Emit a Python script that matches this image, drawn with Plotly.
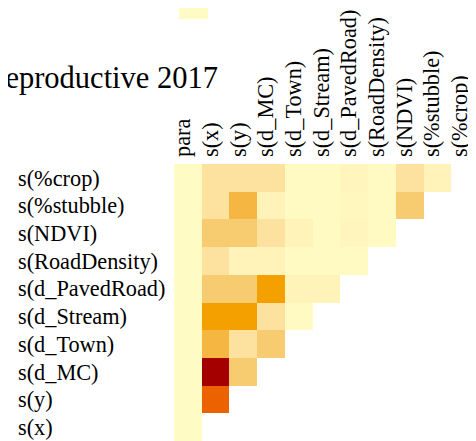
import plotly.graph_objects as go

# page is drawn with the default 8px body margin, so the figure is 8px smaller
OFF = 8
W, H = 476 - OFF, 441 - OFF

# ---- data ----
col_labels = ["para", "s(x)", "s(y)", "s(d_MC)", "s(d_Town)", "s(d_Stream)",
              "s(d_PavedRoad)", "s(RoadDensity)", "s(NDVI)", "s(%stubble)", "s(%crop)"]
row_labels = ["s(%crop)", "s(%stubble)", "s(NDVI)", "s(RoadDensity)", "s(d_PavedRoad)",
              "s(d_Stream)", "s(d_Town)", "s(d_MC)", "s(y)", "s(x)"]  # top to bottom

N = None
row_crop        = [0.03, 0.20, 0.20, 0.20, 0.04, 0.04, 0.08, 0.04, 0.20, 0.10, N]
row_stubble     = [0.03, 0.20, 0.40, 0.10, 0.04, 0.04, 0.07, 0.04, 0.30, N, N]
row_ndvi        = [0.03, 0.30, 0.30, 0.20, 0.10, 0.04, 0.08, 0.04, N, N, N]
row_roaddensity = [0.03, 0.20, 0.10, 0.10, 0.04, 0.04, 0.04, N, N, N, N]
row_pavedroad   = [0.03, 0.30, 0.30, 0.50, 0.10, 0.10, N, N, N, N, N]
row_stream      = [0.03, 0.50, 0.50, 0.20, 0.04, N, N, N, N, N, N]
row_town        = [0.03, 0.40, 0.20, 0.30, N, N, N, N, N, N, N]
row_mc          = [0.03, 0.90, 0.30, N, N, N, N, N, N, N, N]
row_y           = [0.03, 0.70, N, N, N, N, N, N, N, N, N]
row_x           = [0.03, N, N, N, N, N, N, N, N, N, N]
z_rows = [row_crop, row_stubble, row_ndvi, row_roaddensity, row_pavedroad,
          row_stream, row_town, row_mc, row_y, row_x]

corner_value = [[0.03]]

title_text = "Reproductive 2017"

colorscale = [
    [0.00, "#FFFFC8"],
    [0.10, "#FFF3BA"],
    [0.20, "#FCE29E"],
    [0.30, "#F7CB70"],
    [0.40, "#F5B642"],
    [0.50, "#F4A000"],
    [0.70, "#EC6200"],
    [0.90, "#A50000"],
    [1.00, "#800000"],
]

FONT = "Liberation Serif"


def px(x):  # reference page x -> figure paper fraction
    return (x - OFF) / W


def py(y):  # reference page y -> figure paper fraction (from bottom)
    return 1 - (y - OFF) / H


fig = go.Figure()
fig.add_trace(go.Heatmap(
    z=z_rows, x=col_labels, y=row_labels,
    colorscale=colorscale, zmin=0, zmax=1, showscale=False,
    hoverongaps=False, xaxis="x", yaxis="y2",
))
fig.add_trace(go.Heatmap(
    z=corner_value, colorscale=colorscale, zmin=0, zmax=1,
    showscale=False, xaxis="x2", yaxis="y3",
))

fig.update_layout(
    template="none",
    width=W, height=H,
    margin=dict(l=0, r=0, t=0, b=0, pad=0),
    paper_bgcolor="white", plot_bgcolor="white",
    font=dict(family=FONT, color="black", size=22),
    title=dict(text=title_text, font=dict(family=FONT, size=30.5, color="black"),
               x=px(218), xanchor="right", xref="container",
               y=py(77), yanchor="middle", yref="container"),
    xaxis=dict(domain=[px(174), 1], range=[-0.5, 10.4], side="top",
               tickangle=-90, ticks="", showgrid=False, zeroline=False,
               showline=False, automargin=False, ticklabelstandoff=6,
               ticklabelshift=-5, tickfont=dict(size=22.3), anchor="y2"),
    yaxis2=dict(domain=[0, py(164)], side="right", anchor="free", position=px(17),
                type="category", categoryorder="array", categoryarray=row_labels,
                range=[9.5, -0.5], ticks="", showgrid=False, zeroline=False,
                showline=False, automargin=False, ticklabelstandoff=0,
                tickfont=dict(size=22.3)),
    xaxis2=dict(domain=[px(179), px(208)], anchor="y3", visible=False),
    yaxis3=dict(domain=[py(19), 1], anchor="x2", visible=False),
)

fig.write_html("out.html")
